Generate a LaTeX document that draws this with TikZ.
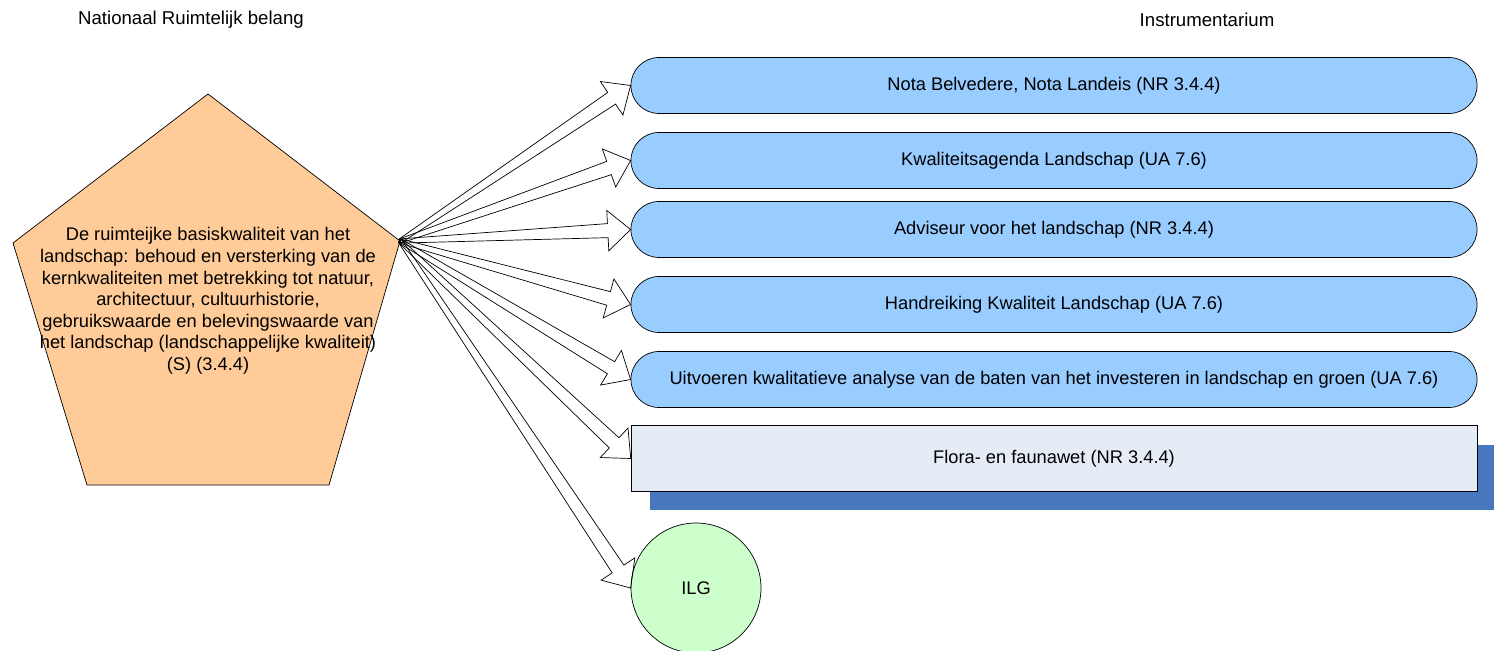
\documentclass[tikz,border=0pt]{standalone}
\usepackage{fontspec}
\setmainfont{Liberation Sans}
\usetikzlibrary{calc,shapes.misc,shadows}

\definecolor{pentorange}{HTML}{FFCC99}
\definecolor{boxblue}{HTML}{99CCFF}
\definecolor{florafill}{HTML}{E6ECF6}
\definecolor{shadowblue}{HTML}{4877BE}
\definecolor{ilggreen}{HTML}{CCFFCC}

% hollow block arrow from #1 to #2
\newcommand{\blockarrow}[2]{%
	\coordinate (hb) at ($(#2)!13pt!(#1)$);
	\draw ($(#1)!1.2pt!90:(#2)$) -- ($(hb)!4pt!-90:(#1)$) -- ($(hb)!11.5pt!-90:(#1)$) -- (#2)
		-- ($(hb)!11.5pt!90:(#1)$) -- ($(hb)!4pt!90:(#1)$) -- ($(#1)!1.2pt!-90:(#2)$) -- cycle;}

\begin{document}
\begin{tikzpicture}[x = 0.02cm, y = -0.02cm, font = \fontsize{10.4}{12.3}\selectfont,
		title/.style = {font = \fontsize{10.6}{12.6}\selectfont},
		instr/.style = {rounded rectangle, draw, fill = boxblue, minimum width = 17.16cm, minimum height = 1.12cm}]
		\useasboundingbox (0, 0) rectangle (1494, 651);
		\node[title] (natlabel) at (191, 20) {Nationaal Ruimtelijk belang};
		\node[title] (instrlabel) at (1207, 20) {Instrumentarium};
		% pentagon
		\draw[fill = pentorange] (208, 94) -- (400, 241) -- (329, 485) -- (87, 485) -- (13, 243) -- cycle;
		\coordinate (src) at (400, 241);
		\node[align = center] (basis) at (208, 301) {De ruimteijke basiskwaliteit van het\\landschap: behoud en versterking van de\\kernkwaliteiten met betrekking tot natuur,\\architectuur, cultuurhistorie,\\gebruikswaarde en belevingswaarde van\\het landschap (landschappelijke kwaliteit)\\(S) (3.4.4)};
		\foreach \i/\y/\txt in {{1/85.5/Nota Belvedere, Nota Landeis (NR 3.4.4)},
				{2/160.5/Kwaliteitsagenda Landschap (UA 7.6)},
				{3/229.5/Adviseur voor het landschap (NR 3.4.4)},
				{4/304.5/Handreiking Kwaliteit Landschap (UA 7.6)},
				{5/379.5/Uitvoeren kwalitatieve analyse van de baten van het investeren in landschap en groen (UA 7.6)}}
			\node[instr] (b\i) at (1054, \y) {\txt};
		\node[draw, fill = florafill, minimum width = 16.92cm, minimum height = 1.32cm,
			drop shadow = {shadow xshift = 0.38cm, shadow yshift = -0.38cm, fill = shadowblue, opacity = 1}] (flora) at (1054, 458.5) {Flora- en faunawet (NR 3.4.4)};
		\node[circle, draw, fill = ilggreen, minimum size = 2.6cm] (ilg) at (696, 588) {ILG};
		\foreach \t in {b1, b2, b3, b4, b5, flora, ilg}
			{\blockarrow{src}{\t.west}}
	\end{tikzpicture}
\end{document}
